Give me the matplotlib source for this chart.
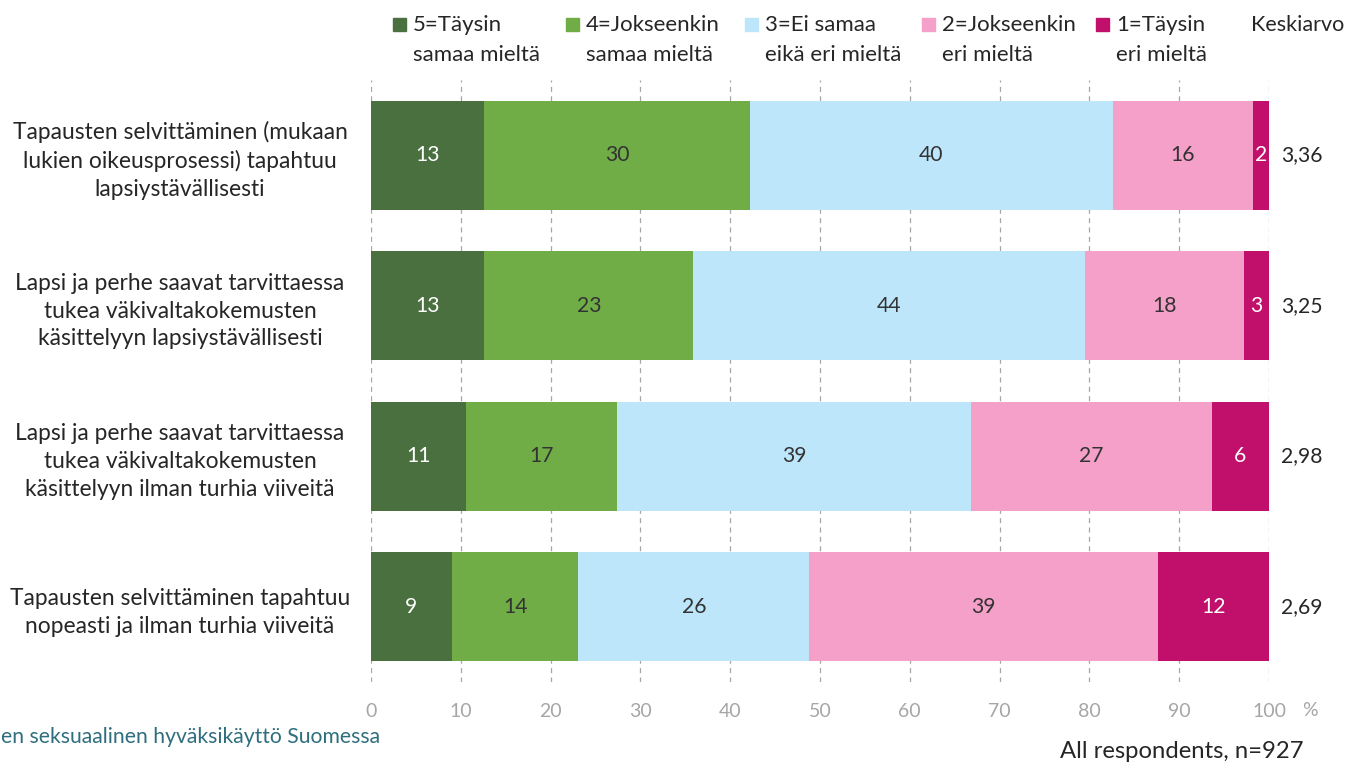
import matplotlib

matplotlib.use("Agg")
import matplotlib.pyplot as plt  # noqa: E402
import numpy as np  # noqa: E402
from matplotlib.patches import Rectangle  # noqa: E402

plt.rcParams["font.family"] = ["Lato", "DejaVu Sans"]

# statements (y-axis)
statements = [
    "Tapausten selvittäminen (mukaan\nlukien oikeusprosessi) tapahtuu\nlapsiystävällisesti",
    "Lapsi ja perhe saavat tarvittaessa\ntukea väkivaltakokemusten\nkäsittelyyn lapsiystävällisesti",
    "Lapsi ja perhe saavat tarvittaessa\ntukea väkivaltakokemusten\nkäsittelyyn ilman turhia viiveitä",
    "Tapausten selvittäminen tapahtuu\nnopeasti ja ilman turhia viiveitä",
]
legend_labels = [
    "5=Täysin\nsamaa mieltä",
    "4=Jokseenkin\nsamaa mieltä",
    "3=Ei samaa\neikä eri mieltä",
    "2=Jokseenkin\neri mieltä",
    "1=Täysin\neri mieltä",
]
# shares (%) per answer, one list per answer option
s5 = [12.6, 12.6, 10.6, 9.0]
s4 = [29.6, 23.3, 16.8, 14.1]
s3 = [40.4, 43.6, 39.4, 25.7]
s2 = [15.6, 17.7, 26.8, 38.8]
s1 = [1.8, 2.8, 6.4, 12.4]
means = ["3,36", "3,25", "2,98", "2,69"]

colors = ["#4a7040", "#70ad47", "#bde6fa", "#f4a0c8", "#c0106c"]
text_colors = ["white", "#333333", "#333333", "#333333", "white"]
TXT = "#262626"
GREY = "#a6a6a6"

fig = plt.figure(figsize=(13.46, 7.68), dpi=100)
ax = fig.add_axes([371 / 1346, 1 - 682 / 768, 898 / 1346, 602 / 768])

y = np.arange(len(statements))
left = np.zeros(len(statements))
for vals, col, tcol in zip([s5, s4, s3, s2, s1], colors, text_colors):
    vals = np.array(vals)
    ax.barh(y, vals, left=left, height=0.725, color=col, zorder=2)
    for yi, (l, v) in enumerate(zip(left, vals)):
        ax.text(l + v / 2, yi, f"{v:.0f}", ha="center", va="center",
                fontsize=15.2, color=tcol, zorder=3)
    left += vals

for yi, m in enumerate(means):
    ax.text(101.3, yi, m, ha="left", va="center", fontsize=15.2, color=TXT)

ax.set_xlim(0, 100)
ax.set_ylim(3.5, -0.5)
ax.set_xticks(np.arange(0, 101, 10))
ax.tick_params(axis="x", length=0, labelsize=14, labelcolor=GREY, pad=15)
ax.set_yticks(y)
ax.set_yticklabels(statements, fontsize=16.4, color=TXT, linespacing=1.4)
ax.tick_params(axis="y", length=0, pad=22)
for lab in ax.get_yticklabels():
    lab.set_horizontalalignment("center")
    lab.set_x(-0.1786)
ax.xaxis.grid(True, linestyle=(0, (4, 3.5)), color=GREY, linewidth=0.9, zorder=0)
for sp in ax.spines.values():
    sp.set_visible(False)
fig.text(1302 / 1346, 1 - 710 / 768, "%", ha="left", va="center", fontsize=14, color=GREY)

# legend drawn manually at the top
sq_x = [393, 566, 745, 922, 1096]
for x0, lab, col in zip(sq_x, legend_labels, colors):
    fig.patches.append(Rectangle((x0 / 1346, 1 - 31 / 768), 13 / 1346, 13 / 768,
                                 transform=fig.transFigure, color=col))
    fig.text((x0 + 20) / 1346, 1 - 15 / 768, lab, ha="left", va="top",
             fontsize=16, color=TXT, linespacing=1.6)
fig.text(1251 / 1346, 1 - 15 / 768, "Keskiarvo", ha="left", va="top",
         fontsize=15.5, color=TXT)

fig.text(1 / 1346, 1 - 737 / 768, "en seksuaalinen hyväksikäyttö Suomessa", ha="left",
         va="center", fontsize=15.2, color="#2e6e7e")
fig.text(1304 / 1346, 1 - 752 / 768, "All respondents, n=927", ha="right", va="center",
         fontsize=17.2, color=TXT)

fig.savefig("out.png", dpi=100)
